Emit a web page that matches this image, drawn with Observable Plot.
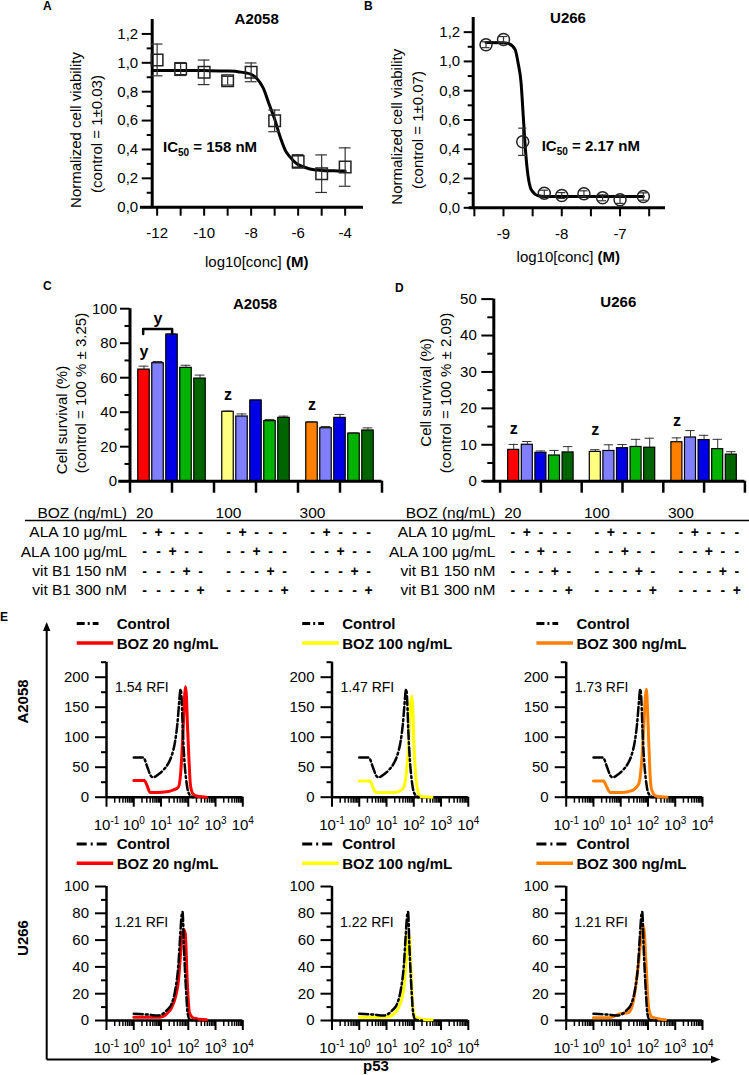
<!DOCTYPE html>
<html>
<head>
<meta charset="utf-8">
<script src="https://cdn.jsdelivr.net/npm/d3@7"></script>
<script src="https://cdn.jsdelivr.net/npm/@observablehq/plot@0.6"></script>
<style>
html,body{margin:0;padding:0;background:#fff;}
#fig{position:relative;width:749px;height:1075px;overflow:hidden;background:#fff;}
#fig svg{position:absolute;left:0;top:0;}
</style>
</head>
<body>
<div id="fig"></div>
<script>
// ---------------- DATA ----------------
// Panel A (A2058 dose-response)
const aLogConc = [-12, -11, -10, -9, -8, -7, -6, -5, -4];
const aViability = [1.02, 0.957, 0.934, 0.876, 0.934, 0.598, 0.317, 0.232, 0.278];
const aError = [0.11, 0.045, 0.085, 0.03, 0.065, 0.075, 0.047, 0.13, 0.133];
const aFitLogConc = [-12.2, -11, -10, -9, -8.5, -8, -7.75, -7.5, -7.25, -7, -6.75, -6.5, -6.25, -6, -5.5, -5, -4.5, -4];
const aFitViability = [0.947, 0.947, 0.946, 0.943, 0.937, 0.92, 0.89, 0.83, 0.72, 0.61, 0.48, 0.38, 0.33, 0.295, 0.265, 0.255, 0.252, 0.25];
const aYTicks = [0, 0.2, 0.4, 0.6, 0.8, 1.0, 1.2];
const aYMinor = [0.1, 0.3, 0.5, 0.7, 0.9, 1.1];
const aXTicks = [-12, -11, -10, -9, -8, -7, -6, -5, -4];

// Panel B (U266 dose-response)
const bLogConc = [-9.3, -9.0, -8.67, -8.3, -8.0, -7.62, -7.3, -7.0, -6.6];
const bViability = [1.114, 1.15, 0.451, 0.10, 0.084, 0.096, 0.068, 0.055, 0.077];
const bError = [0.02, 0.02, 0.093, 0.02, 0.02, 0.02, 0.02, 0.025, 0.025];
const bFitLogConc = [-9.3, -9.0, -8.9, -8.8, -8.75, -8.7, -8.66, -8.62, -8.58, -8.54, -8.5, -8.45, -8.4, -8.3, -8.0, -7.0, -6.6];
const bFitViability = [1.13, 1.128, 1.12, 1.08, 0.99, 0.86, 0.62, 0.38, 0.22, 0.14, 0.11, 0.09, 0.082, 0.078, 0.077, 0.077, 0.077];
const bXTicks = [-9.5, -9, -8.5, -8, -7.5, -7, -6.5];

// Panels C / D (cell survival bars): rows = BOZ dose, columns = treatment
const bozDoses = ["20", "100", "300"];
const treatments = ["BOZ", "ALA 10 μg/mL", "ALA 100 μg/mL", "vit B1 150 nM", "vit B1 300 nM"];
const cSurvival = [[64.7, 68.4, 85.0, 65.7, 59.5], [40.2, 37.5, 46.8, 34.8, 36.7], [34.0, 30.7, 36.7, 27.6, 29.4]];
const cError = [[2.0, 1.0, 0.5, 1.5, 2.0], [0.5, 1.5, 0.5, 1.0, 1.0], [0.5, 1.0, 2.0, 0.5, 1.5]];
const dSurvival = [[8.6, 10.0, 7.8, 7.05, 7.9], [8.05, 8.3, 9.06, 9.4, 9.2], [10.7, 12.0, 11.3, 8.8, 7.3]];
const dError = [[1.5, 0.9, 0.5, 1.4, 1.6], [0.6, 1.7, 1.0, 2.1, 2.6], [1.2, 1.9, 1.3, 2.7, 0.8]];
const doseColors = ["#ff0000", "#ffff80", "#ff8000"];
const addColors = ["#7f7fff", "#0000e6", "#00b300", "#006400"];
const cYTicks = [0, 20, 40, 60, 80, 100];
const cYMinor = [10, 30, 50, 70, 90];
const dYTicks = [0, 10, 20, 30, 40, 50];
const dYMinor = [5, 15, 25, 35, 45];
const slotTicks = [-1, 2, 5, 8, 11, 14, 17];
const cNotes = [{slot: 0, v: 74.8, t: "y"}, {slot: 1, v: 94.2, t: "y"}, {slot: 6, v: 50.1, t: "z"}, {slot: 12, v: 44.0, t: "z"}];
const cBracket = [{slot: -0.06, v: 85.4}, {slot: -0.06, v: 88.3}, {slot: 2.01, v: 88.3}, {slot: 2.01, v: 85.4}];
const dNotes = [{slot: 0, v: 14.4, t: "z"}, {slot: 6, v: 14.0, t: "z"}, {slot: 12, v: 16.7, t: "z"}];

// Treatment table
const tableRowLabels = ["BOZ (ng/mL)", "ALA 10 μg/mL", "ALA 100 μg/mL", "vit B1 150 nM", "vit B1 300 nM"];
const tableSigns = [
  ["-", "+", "-", "-", "-"],
  ["-", "-", "+", "-", "-"],
  ["-", "-", "-", "+", "-"],
  ["-", "-", "-", "-", "+"]
];

// Panel E (p53 flow histograms)
const eDecades = [0.1, 1, 10, 100, 1000, 10000];
const eMinorLog = [0.2,0.3,0.4,0.5,0.6,0.7,0.8,0.9, 2,3,4,5,6,7,8,9, 20,30,40,50,60,70,80,90, 200,300,400,500,600,700,800,900, 2000,3000,4000,5000,6000,7000,8000,9000];
const eRow1Ticks = [0, 50, 100, 150, 200];
const eRow1Minor = [25, 75, 125, 175, 225];
const eRow2Ticks = [0, 20, 40, 60, 80, 100];
const eRow2Minor = [10, 30, 50, 70, 90];
const eDoseLabels = ["BOZ 20 ng/mL", "BOZ 100 ng/mL", "BOZ 300 ng/mL"];
const eColors = ["#ff0000", "#ffff00", "#ff8000"];
const rfiA2058 = ["1.54 RFI", "1.47 RFI", "1.73 RFI"];
const rfiU266 = ["1.21 RFI", "1.22 RFI", "1.21 RFI"];

const a2058CtrlX = [1, 2.24, 3.16, 4.17, 5.01, 7.94, 12.6, 17.8, 24.5, 33.1, 39.8, 45.7, 50.1, 52.5, 57.5, 63.1, 72.4, 83.2, 93.3, 112, 151];
const a2058CtrlY = [66, 66, 50, 36, 33, 38, 46, 55, 69, 94, 122, 155, 176, 180, 160, 110, 60, 30, 14, 4, 0];
const a2058Boz20X = [1, 2.45, 3.16, 3.98, 7.08, 16.2, 28.2, 43.7, 52.5, 57.5, 66.1, 74.1, 79.4, 85.1, 93.3, 105, 120, 141, 174, 251, 468];
const a2058Boz20Y = [28, 28, 18, 8, 8, 9, 12, 17, 40, 67, 122, 172, 184, 170, 120, 67, 20, 7, 3, 1, 0];
const a2058Boz100X = [1, 2.51, 3.16, 3.98, 18.6, 35.5, 43.7, 56.2, 66.1, 74.1, 83.2, 93.3, 100, 112, 126, 151, 178, 468];
const a2058Boz100Y = [27, 27, 17, 8, 8, 12, 17, 50, 94, 150, 168, 140, 94, 50, 22, 6, 1, 0];
const a2058Boz300X = [1, 2.34, 3.16, 4.07, 11.0, 25.7, 45.7, 60.3, 70.8, 79.4, 87.1, 95.5, 105, 117, 132, 162, 224, 501];
const a2058Boz300Y = [27, 27, 16, 8, 8, 11, 22, 67, 120, 165, 180, 150, 100, 45, 15, 5, 1, 0];

const u266CtrlX = [1, 3.02, 7.94, 16.2, 24.5, 33.1, 43.7, 50.1, 57.5, 61.7, 69.2, 83.2, 95.5, 115, 200];
const u266CtrlY = [5, 4.5, 3.7, 7.5, 12.5, 22.5, 42.5, 62, 79, 81, 55, 22, 5, 0.5, 0];
const u266Boz20X = [1, 9.33, 16.2, 28.2, 43.7, 57.5, 66.1, 77.6, 91.2, 110, 151, 468];
const u266Boz20Y = [2.5, 2.5, 5, 12.5, 30, 60, 68, 65, 30, 6, 2, 0.5];
const u266Boz100X = [1, 9.33, 16.2, 28.2, 43.7, 55.0, 63.1, 69.2, 79.4, 91.2, 110, 200, 468];
const u266Boz100Y = [2.5, 2.5, 4, 10, 25, 50, 64, 62, 35, 12, 3, 1, 0.5];
const u266Boz300X = [1, 3.55, 9.55, 19.5, 29.5, 44.7, 60.3, 69.2, 85.1, 105, 141, 437];
const u266Boz300Y = [2, 2, 5, 6, 15, 42, 67, 70, 42, 10, 2.5, 0.5];

// ---------------- HELPERS ----------------
const FONT = '"Liberation Sans", Arial, Helvetica, sans-serif';
const W = 749, H = 1075;
const fig = document.getElementById("fig");
const AX = {label: null, strokeWidth: 2};
const zip = (xs, ys) => xs.map((x, i) => ({x, y: ys[i]}));

function chart(x0, x1, y0, y1, opts) {
  const {x = {}, y = {}, marks} = opts;
  const svg = Plot.plot({
    width: W, height: H,
    marginLeft: x0, marginRight: W - x1, marginTop: y0, marginBottom: H - y1,
    x: {axis: null, label: null, ...x},
    y: {axis: null, label: null, ...y},
    color: {type: "identity"},
    style: {fontFamily: FONT, fontSize: "15px", color: "black", background: "transparent", overflow: "visible"},
    marks
  });
  svg.style.position = "absolute"; svg.style.left = "0px"; svg.style.top = "0px";
  fig.appendChild(svg);
  return svg;
}

function errorBars(pts, half) {
  const s = {stroke: "#333", strokeWidth: 1.2};
  return [
    Plot.ruleX(pts, {x: "x", y1: d => d.y - d.e, y2: d => d.y + d.e, ...s}),
    Plot.ruleY(pts, {y: d => d.y + d.e, x1: d => d.x - half, x2: d => d.x + half, ...s}),
    Plot.ruleY(pts, {y: d => d.y - d.e, x1: d => d.x - half, x2: d => d.x + half, ...s})
  ];
}

const commaFmt = d => d.toFixed(1).replace(".", ",");

// ---------------- PANEL A ----------------
const aPoints = aLogConc.map((x, i) => ({x, y: aViability[i], e: aError[i]}));
chart(151.7, 363, 19, 206.7, {
  x: {domain: [-12.21, -3.22]}, y: {domain: [0, 1.3]},
  marks: [
    Plot.axisY({...AX, ticks: aYTicks, tickSize: 10, tickPadding: 4, tickFormat: commaFmt}),
    Plot.axisY({...AX, ticks: aYMinor, tickSize: 5, tickFormat: () => ""}),
    Plot.axisX({...AX, ticks: aXTicks, tickSize: 9, tickPadding: 11, tickFormat: d => d % 2 === 0 ? String(d) : ""}),
    Plot.ruleY([0], {x1: -12.71, x2: -3.22, strokeWidth: 3}),
    Plot.ruleX([-12.21], {y1: 0, y2: 1.3, strokeWidth: 3}),
    Plot.line(zip(aFitLogConc, aFitViability), {x: "x", y: "y", curve: "catmull-rom", strokeWidth: 3}),
    ...errorBars(aPoints, 0.25),
    Plot.dot(aPoints, {x: "x", y: "y", symbol: "square", r: 6.5, stroke: "#222", strokeWidth: 1.5, fill: "none"})
  ]
});

// ---------------- PANEL B ----------------
const bPoints = bLogConc.map((x, i) => ({x, y: bViability[i], e: bError[i]}));
chart(472.7, 665, 17, 207.3, {
  x: {domain: [-9.52, -6.22]}, y: {domain: [0, 1.3]},
  marks: [
    Plot.axisY({...AX, ticks: aYTicks, tickSize: 9, tickPadding: 4, tickFormat: commaFmt}),
    Plot.axisY({...AX, ticks: aYMinor, tickSize: 5, tickFormat: () => ""}),
    Plot.axisX({...AX, ticks: bXTicks, tickSize: 9, tickPadding: 12, tickFormat: d => Number.isInteger(d) ? String(d) : ""}),
    Plot.ruleY([0], {x1: -9.59, x2: -6.22, strokeWidth: 3}),
    Plot.ruleX([-9.52], {y1: 0, y2: 1.3, strokeWidth: 3}),
    Plot.line(zip(bFitLogConc, bFitViability), {x: "x", y: "y", curve: "monotone-x", strokeWidth: 3}),
    ...errorBars(bPoints, 0.07),
    Plot.dot(bPoints, {x: "x", y: "y", r: 6, stroke: "#222", strokeWidth: 1.5, fill: "none"})
  ]
});

// ---------------- PANELS C / D ----------------
function barData(vals, errs) {
  return vals.flatMap((row, g) => row.map((v, b) => ({
    slot: g * 6 + b, v, e: errs[g][b], fill: b === 0 ? doseColors[g] : addColors[b - 1]
  })));
}
function barMarks(data, half) {
  return [
    Plot.rect(data, {x1: d => d.slot - half, x2: d => d.slot + half, y1: 0, y2: "v", fill: "fill", stroke: "black", strokeWidth: 1.2}),
    Plot.ruleX(data, {x: "slot", y1: "v", y2: d => d.v + d.e, stroke: "#333", strokeWidth: 1}),
    Plot.ruleY(data, {y: d => d.v + d.e, x1: d => d.slot - half * 0.85, x2: d => d.slot + half * 0.85, stroke: "#333", strokeWidth: 1})
  ];
}
const cData = barData(cSurvival, cError);
chart(129.5, 381.5, 308.2, 480.7, {
  x: {domain: [-1, 17]}, y: {domain: [0, 100]},
  marks: [
    Plot.axisY({...AX, ticks: cYTicks, tickSize: 9.5, tickPadding: 3.5}),
    Plot.axisY({...AX, ticks: cYMinor, tickSize: 5, tickFormat: () => ""}),
    Plot.axisX({...AX, ticks: slotTicks, tickSize: 12, strokeWidth: 2.5, tickFormat: () => ""}),
    ...barMarks(cData, 0.41),
    Plot.ruleY([0], {x1: -1.8, x2: 17, strokeWidth: 3}),
    Plot.ruleX([-1], {y1: 0, y2: 100, strokeWidth: 3}),
    Plot.line(cBracket, {x: "slot", y: "v", strokeWidth: 2.5}),
    Plot.text(cNotes, {x: "slot", y: "v", text: "t", fontWeight: "bold", fontSize: 16})
  ]
});

const dData = barData(dSurvival, dError);
chart(493.3, 744.4, 298.6, 480.7, {
  x: {domain: [-1.463, 17]}, y: {domain: [0, 50]},
  marks: [
    Plot.axisY({...AX, ticks: dYTicks, tickSize: 12, tickPadding: 5}),
    Plot.axisY({...AX, ticks: dYMinor, tickSize: 6, tickFormat: () => ""}),
    Plot.axisX({...AX, ticks: slotTicks, tickSize: 12, strokeWidth: 2.5, tickFormat: () => ""}),
    ...barMarks(dData, 0.405),
    Plot.ruleY([0], {x1: -2.2, x2: 17, strokeWidth: 3}),
    Plot.ruleX([-1.463], {y1: 0, y2: 50, strokeWidth: 3}),
    Plot.text(dNotes, {x: "slot", y: "v", text: "t", fontWeight: "bold", fontSize: 16})
  ]
});

// ---------------- TABLE ----------------
const tableOffsets = [0, 26.31];
const tLabels = [], tDoses = [], tSigns = [];
tableOffsets.forEach(off => {
  tableRowLabels.forEach((t, r) => tLabels.push({x: off - 1.25, r, t}));
  bozDoses.forEach((t, g) => tDoses.push({x: off + g * 6, r: 0, t}));
  bozDoses.forEach((_, g) => tableSigns.forEach((row, ri) => row.forEach((t, b) => tSigns.push({x: off + g * 6 + b, r: ri + 1, t}))));
});
chart(0, 749, 512.7, 590, {
  x: {domain: [-144 / 14, (749 - 144) / 14]}, y: {domain: [0, 4], reverse: true},
  marks: [
    Plot.ruleY([0.38], {x1: -8.5, x2: 43.3, strokeWidth: 1.5}),
    Plot.text(tLabels, {x: "x", y: "r", text: "t", textAnchor: "end", fontSize: 15.5}),
    Plot.text(tDoses, {x: "x", y: "r", text: "t", fontSize: 15.5}),
    Plot.text(tSigns, {x: "x", y: "r", text: "t", fontSize: 14, fontWeight: "bold"})
  ]
});

// ---------------- PANEL E ----------------
const eX = [106, 331.5, 565.7];
const eTop = [
  {ctrl: zip(a2058CtrlX, a2058CtrlY), trt: zip(a2058Boz20X, a2058Boz20Y)},
  {ctrl: zip(a2058CtrlX, a2058CtrlY), trt: zip(a2058Boz100X, a2058Boz100Y)},
  {ctrl: zip(a2058CtrlX, a2058CtrlY), trt: zip(a2058Boz300X, a2058Boz300Y)}
];
const eBottom = [
  {ctrl: zip(u266CtrlX, u266CtrlY), trt: zip(u266Boz20X, u266Boz20Y)},
  {ctrl: zip(u266CtrlX, u266CtrlY), trt: zip(u266Boz100X, u266Boz100Y)},
  {ctrl: zip(u266CtrlX, u266CtrlY), trt: zip(u266Boz300X, u266Boz300Y)}
];
function flow(x0, y0, y1, yMax, major, minor, d, color) {
  const svg = chart(x0, x0 + 136.3, y0, y1, {
    x: {type: "log", domain: [0.1, 10000]}, y: {domain: [0, yMax]},
    marks: [
      Plot.axisY({...AX, ticks: major, tickSize: 11, tickPadding: 6.5}),
      Plot.axisY({...AX, ticks: minor, tickSize: 5, tickFormat: () => ""}),
      Plot.axisX({...AX, ticks: eDecades, tickSize: 10, tickPadding: 12, tickFormat: v => "10^" + Math.round(Math.log10(v))}),
      Plot.axisX({...AX, ticks: eMinorLog, tickSize: 6, strokeWidth: 1.5, tickFormat: () => ""}),
      Plot.ruleY([0], {x1: 0.1, x2: 10000, strokeWidth: 2.5}),
      Plot.ruleX([0.1], {y1: 0, y2: yMax, strokeWidth: 2.5}),
      Plot.line(d.trt, {x: "x", y: "y", stroke: color, strokeWidth: 3, curve: "monotone-x"}),
      Plot.line(d.ctrl, {x: "x", y: "y", stroke: "black", strokeWidth: 2.5, strokeDasharray: "9,3,2,3", curve: "monotone-x"})
    ]
  });
  const ns = "http://www.w3.org/2000/svg";
  svg.querySelectorAll("text").forEach(t => {
    const s = t.textContent;
    if (s.startsWith("10^")) {
      t.textContent = "";
      const a = document.createElementNS(ns, "tspan"); a.textContent = "10"; t.appendChild(a);
      const b = document.createElementNS(ns, "tspan");
      b.setAttribute("dy", "-6"); b.setAttribute("font-size", "10"); b.textContent = s.slice(3).replace("-", "-");
      t.appendChild(b);
    }
  });
}
eX.forEach((x0, i) => {
  flow(x0, 661.7, 796.7, 225, eRow1Ticks, eRow1Minor, eTop[i], eColors[i]);
  flow(x0, 886, 1020, 100, eRow2Ticks, eRow2Minor, eBottom[i], eColors[i]);
});

// ---------------- TEXT OVERLAY ----------------
const ov = d3.select(fig).append("svg").attr("width", W).attr("height", H).attr("font-family", FONT);
function T(x, y, s, o = {}) {
  const t = ov.append("text").attr("x", x).attr("y", y).attr("font-size", o.size || 15).attr("fill", "black");
  if (o.bold) t.attr("font-weight", "bold");
  if (o.anchor) t.attr("text-anchor", o.anchor);
  if (o.rot) t.attr("transform", `rotate(-90,${x},${y})`).attr("text-anchor", "middle").attr("dominant-baseline", "central");
  if (s != null) t.text(s);
  return t;
}
// panel letters
T(43, 10, "A", {bold: true, size: 12});
T(364, 10, "B", {bold: true, size: 12});
T(43, 290, "C", {bold: true, size: 12});
T(395, 292, "D", {bold: true, size: 12});
T(0, 621, "E", {bold: true, size: 12});
// titles
T(256.7, 24, "A2058", {bold: true, anchor: "middle"});
T(568, 22.5, "U266", {bold: true, anchor: "middle"});
T(255, 309, "A2058", {bold: true, anchor: "middle"});
T(618.3, 306.7, "U266", {bold: true, anchor: "middle"});
// axis titles A/B
T(75, 130, "Normalized cell viability", {rot: true});
T(96, 134, "(control = 1±0.03)", {rot: true});
T(396.7, 126.7, "Normalized cell viability", {rot: true});
T(417.5, 130, "(control = 1±0.07)", {rot: true});
const xa = T(256.7, 266.5, null, {anchor: "middle"});
xa.append("tspan").text("log10[conc] ");
xa.append("tspan").attr("font-weight", "bold").text("(M)");
const xb = T(568.3, 261.5, null, {anchor: "middle"});
xb.append("tspan").text("log10[conc] ");
xb.append("tspan").attr("font-weight", "bold").text("(M)");
// IC50
function ic50(x, y, val) {
  const t = T(x, y, null, {bold: true});
  t.append("tspan").text("IC");
  t.append("tspan").attr("font-size", 10).attr("dy", 4).text("50");
  t.append("tspan").attr("dy", -4).text(" = " + val);
}
ic50(163, 152, "158 nM");
ic50(541.7, 150.7, "2.17 nM");
// C / D axis titles
T(61, 420, "Cell survival (%)", {rot: true});
T(80, 393, "(control = 100 % ± 3.25)", {rot: true});
T(425.5, 392.5, "Cell survival (%)", {rot: true});
T(445, 393, "(control = 100 % ± 2.09)", {rot: true});
// E legends, RFI labels
eX.forEach((x0, i) => {
  ov.append("line").attr("x1", x0 - 29.3).attr("x2", x0 - 7.5).attr("y1", 623.5).attr("y2", 623.5)
    .attr("stroke", "black").attr("stroke-width", 3).attr("stroke-dasharray", "8,3,2,3");
  T(x0 + 10.7, 629, "Control", {bold: true});
  ov.append("line").attr("x1", x0 - 29.3).attr("x2", x0 + 7.3).attr("y1", 643).attr("y2", 643)
    .attr("stroke", eColors[i]).attr("stroke-width", 3.5);
  T(x0 + 10.7, 648.5, eDoseLabels[i], {bold: true});
  ov.append("line").attr("x1", x0 - 29.3).attr("x2", x0 + 1.5).attr("y1", 844).attr("y2", 844)
    .attr("stroke", "black").attr("stroke-width", 3).attr("stroke-dasharray", "10,4,2,4");
  T(x0 + 10.7, 849.4, "Control", {bold: true});
  ov.append("line").attr("x1", x0 - 29.3).attr("x2", x0 + 7.3).attr("y1", 863.3).attr("y2", 863.3)
    .attr("stroke", eColors[i]).attr("stroke-width", 3.5);
  T(x0 + 10.7, 868.7, eDoseLabels[i], {bold: true});
  T(x0 + 9, 691.5, rfiA2058[i], {size: 14});
  T(x0 + 8.5, 926.7, rfiU266[i], {size: 14});
});
// E big axes
ov.append("line").attr("x1", 46.7).attr("x2", 46.7).attr("y1", 1059.5).attr("y2", 630).attr("stroke", "black").attr("stroke-width", 2);
ov.append("path").attr("d", "M46.7,622 L43,631 L50.4,631 Z").attr("fill", "black");
ov.append("line").attr("x1", 46.7).attr("x2", 712).attr("y1", 1059.5).attr("y2", 1059.5).attr("stroke", "black").attr("stroke-width", 2);
ov.append("path").attr("d", "M720.5,1059.5 L711,1055.8 L711,1063.2 Z").attr("fill", "black");
T(22, 701.5, "A2058", {bold: true, rot: true});
T(22, 938, "U266", {bold: true, rot: true});
T(376, 1071, "p53", {bold: true, anchor: "middle"});
</script>
</body>
</html>
